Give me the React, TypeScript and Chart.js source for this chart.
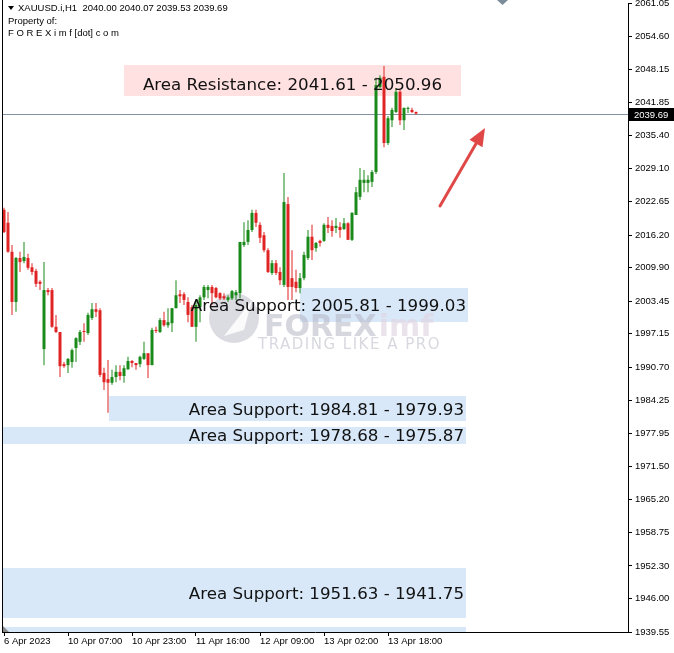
import { useEffect, useRef } from 'react';
import { Chart, registerables } from 'chart.js';
Chart.register(...registerables);

// ---------- data (H1 candles, XAUUSD) ----------
const opens = [
  2021.1, 2018.6, 2013.0, 2003.3, 2011.8, 2011.2, 2011.8, 2010.0, 2009.3, 2007.2,
  1994.2, 2005.6, 2005.6, 1998.5, 1997.5, 1991.3, 1991.1, 1991.7, 1994.4, 1995.6,
  1997.7, 1997.3, 2000.2, 2001.9, 2001.7, 1989.6, 1988.4, 1987.7, 1988.8, 1989.8,
  1989.0, 1990.3, 1991.9, 1991.5, 1991.3, 1992.3, 1993.4, 1991.1, 1997.9, 1997.5,
  1999.8, 1998.8, 1999.2, 2002.1, 2004.8, 2004.8, 2003.3, 2002.3, 1998.5, 2002.3,
  2004.2, 2005.6, 2006.2, 2006.0, 2005.0, 2004.4, 2003.7, 2004.0, 2004.6, 2005.0,
  2014.3, 2014.9, 2017.2, 2020.5, 2018.2, 2016.2, 2013.3, 2008.9, 2010.8, 2009.1,
  2006.6, 2022.2, 2007.9, 2007.2, 2006.0, 2007.9, 2011.8, 2015.9, 2013.7, 2015.1,
  2015.1, 2018.2, 2018.0, 2017.6, 2017.8, 2017.4, 2018.5, 2015.3, 2020.1, 2023.6,
  2026.3, 2026.3, 2026.5, 2028.4, 2044.8, 2046.8, 2034.0, 2038.4, 2040.0, 2043.9,
  2038.4, 2040.6, 2040.4, 2040.0,
];
const highs = [
  2021.5, 2020.7, 2014.3, 2012.0, 2013.0, 2014.9, 2012.6, 2010.8, 2009.7, 2007.5,
  2011.0, 2006.0, 2006.0, 2000.8, 1997.5, 1991.7, 1992.5, 1994.3, 1996.5, 1997.9,
  1999.2, 2001.2, 2003.1, 2003.1, 2002.1, 1990.6, 1992.1, 1990.2, 1991.1, 1991.1,
  1991.1, 1992.7, 1992.1, 1991.5, 1992.9, 1995.6, 1993.4, 1998.3, 1998.5, 2000.2,
  2001.4, 2002.1, 2002.1, 2007.5, 2005.6, 2005.2, 2004.2, 2002.7, 2003.7, 2004.6,
  2006.6, 2006.6, 2006.6, 2006.2, 2005.2, 2005.0, 2004.6, 2005.6, 2005.6, 2014.9,
  2018.7, 2019.1, 2021.1, 2021.1, 2018.7, 2016.8, 2013.7, 2011.4, 2011.4, 2010.0,
  2028.2, 2023.6, 2013.3, 2009.5, 2008.9, 2013.0, 2017.2, 2018.2, 2014.9, 2015.3,
  2018.5, 2019.7, 2019.1, 2019.5, 2018.7, 2019.5, 2018.7, 2020.7, 2025.5, 2029.2,
  2028.8, 2027.8, 2028.8, 2046.6, 2047.1, 2048.9, 2039.2, 2040.8, 2044.6, 2044.3,
  2040.8, 2041.0, 2040.8, 2040.07,
];
const lows = [
  2016.6, 2012.8, 2000.8, 2001.4, 2009.1, 2010.8, 2009.5, 2008.5, 2006.2, 2005.6,
  1991.1, 2004.6, 1998.3, 1997.3, 1988.8, 1990.6, 1989.6, 1990.6, 1991.7, 1995.0,
  1995.6, 1996.9, 1999.8, 2000.4, 1988.8, 1986.3, 1981.9, 1987.3, 1987.8, 1988.2,
  1987.7, 1990.2, 1990.7, 1990.2, 1990.7, 1992.1, 1988.6, 1991.1, 1997.3, 1997.3,
  1998.5, 1998.3, 1997.5, 2002.1, 2003.1, 2002.7, 1999.4, 1998.5, 1995.6, 1999.4,
  2003.7, 2004.0, 2002.7, 2004.0, 2003.7, 2003.7, 2003.3, 2003.7, 2003.7, 2004.0,
  2013.9, 2014.3, 2016.8, 2017.8, 2014.7, 2012.9, 2008.9, 2008.5, 2008.5, 2006.6,
  2006.2, 2003.7, 2003.7, 2005.2, 2005.0, 2007.5, 2011.4, 2011.4, 2013.0, 2014.0,
  2014.9, 2016.6, 2015.9, 2016.6, 2015.7, 2017.2, 2015.3, 2015.1, 2020.1, 2023.0,
  2024.5, 2024.5, 2025.5, 2028.0, 2044.6, 2033.2, 2033.6, 2037.1, 2039.8, 2037.5,
  2036.5, 2039.8, 2039.8, 2039.53,
];
const closes = [
  2016.8, 2013.0, 2003.3, 2011.8, 2011.0, 2012.0, 2009.9, 2009.1, 2006.8, 2006.8,
  2005.6, 2005.2, 1998.5, 1997.5, 1990.9, 1990.9, 1992.3, 1994.0, 1996.3, 1997.5,
  1997.5, 2000.8, 2001.9, 2001.4, 1989.2, 1987.8, 1987.7, 1988.8, 1989.8, 1989.0,
  1990.5, 1991.9, 1991.5, 1991.1, 1992.7, 1993.4, 1991.1, 1997.9, 1997.7, 1999.8,
  1998.8, 1999.4, 2002.1, 2004.6, 2004.4, 2003.7, 2000.8, 1998.5, 2002.7, 2004.2,
  2006.2, 2006.2, 2005.0, 2004.2, 2004.0, 2004.0, 2004.2, 2005.4, 2005.2, 2014.9,
  2014.9, 2017.2, 2020.5, 2018.6, 2015.7, 2013.3, 2009.1, 2010.8, 2008.9, 2007.5,
  2022.6, 2006.2, 2006.2, 2006.0, 2007.9, 2012.4, 2015.9, 2013.3, 2014.7, 2014.7,
  2018.2, 2017.6, 2017.0, 2018.0, 2017.2, 2018.5, 2015.3, 2020.5, 2024.5, 2026.9,
  2026.9, 2026.9, 2028.4, 2045.2, 2046.6, 2034.0, 2038.8, 2040.4, 2043.9, 2038.4,
  2040.8, 2040.8, 2040.0, 2039.69,
];

const timeLabels = ['6 Apr 2023', '10 Apr 07:00', '10 Apr 23:00', '11 Apr 16:00', '12 Apr 09:00', '13 Apr 02:00', '13 Apr 18:00'];
const timeLabelIdx = [0, 16, 32, 48, 64, 80, 96];

const yTickValues = [
  2061.05, 2054.6, 2048.15, 2041.85, 2035.4, 2029.1, 2022.65, 2016.2, 2009.9, 2003.45,
  1997.15, 1990.7, 1984.25, 1977.95, 1971.5, 1965.2, 1958.75, 1952.3, 1946.0, 1939.55,
];
const yMin = 1939.55;
const yMax = 2061.05;
const xMin = -0.5;
const xMax = 156;
const lastPrice = 2039.69;

const headerLine1 = 'XAUUSD.i,H1  2040.00 2040.07 2039.53 2039.69';
const headerLine2 = 'Property of:';
const headerLine3 = 'F O R E X i m f [dot] c o m';

// zones (x in bar index units, y in price)
const zoneFrom = [30, 74, 26.25, -0.5, -0.5, -0.5];
const zoneTo = [114.25, 116, 115.5, 115.5, 115.5, 115.5];
const zoneHigh = [2049.07, 2006.0, 1985.14, 1979.15, 1951.92, 1940.52];
const zoneLow = [2043.09, 1999.43, 1980.31, 1975.87, 1942.26, 1939.0];
const zoneKind = ['res', 'sup', 'sup', 'sup', 'sup', 'sup'];
const zoneLabels = [
  'Area Resistance: 2041.61 - 2050.96',
  'Area Support: 2005.81 - 1999.03',
  'Area Support: 1984.81 - 1979.93',
  'Area Support: 1978.68 - 1975.87',
  'Area Support: 1951.63 - 1941.75',
  '',
];
const zoneLabelPrice = [2045.21, 2002.52, 1982.43, 1977.41, 1946.89, 0];

const arrowFrom = [109, 2021.84];
const arrowTo = [120.25, 2036.9];

const UP = '#1a8a1a';
const DOWN = '#e02424';
const TICK_FONT = '"Liberation Sans", Arial, sans-serif';

const overlayPlugin = {
  id: 'overlay',
  beforeDatasetsDraw(chart: any) {
    const { ctx, chartArea: a } = chart;
    const x = chart.scales.x;
    const y = chart.scales.y;
    ctx.save();
    ctx.beginPath();
    ctx.rect(a.left, a.top, a.right - a.left, a.bottom - a.top);
    ctx.clip();
    zoneFrom.forEach((f, k) => {
      const x0 = x.getPixelForValue(f);
      const x1 = x.getPixelForValue(zoneTo[k]);
      const y0 = y.getPixelForValue(zoneHigh[k]);
      const y1 = y.getPixelForValue(zoneLow[k]);
      ctx.fillStyle = zoneKind[k] === 'res' ? '#ffe1e1' : '#d8e8f8';
      ctx.fillRect(x0, y0, x1 - x0, y1 - y0);
    });

    // watermark
    ctx.fillStyle = 'rgba(175,175,190,0.45)';
    ctx.beginPath();
    ctx.arc(234, 318, 25, 0, Math.PI * 2);
    ctx.fill();
    ctx.fillStyle = 'rgba(255,255,255,0.85)';
    ctx.beginPath();
    ctx.moveTo(224, 336);
    ctx.lineTo(252, 300);
    ctx.lineTo(244, 330);
    ctx.closePath();
    ctx.fill();
    ctx.textBaseline = 'alphabetic';
    ctx.textAlign = 'left';
    ctx.font = 'bold 30px "DejaVu Sans", sans-serif';
    ctx.fillStyle = 'rgba(180,180,196,0.55)';
    ctx.fillText('FOREX', 264, 336);
    const w = ctx.measureText('FOREX').width;
    ctx.fillStyle = 'rgba(225,212,224,0.65)';
    ctx.fillText('imf', 264 + w + 2, 336);
    ctx.font = '15px "DejaVu Sans", sans-serif';
    (ctx as any).letterSpacing = '1.5px';
    ctx.fillStyle = '#d8d8e0';
    ctx.textBaseline = 'middle';
    ctx.fillText('TRADING LIKE A PRO', 258, 345);
    (ctx as any).letterSpacing = '0px';

    // bid line
    const py = Math.round(y.getPixelForValue(lastPrice)) + 0.5;
    ctx.strokeStyle = '#8393a3';
    ctx.lineWidth = 1;
    ctx.beginPath();
    ctx.moveTo(a.left, py);
    ctx.lineTo(a.right, py);
    ctx.stroke();
    ctx.restore();
  },
  afterDatasetsDraw(chart: any) {
    const { ctx } = chart;
    const x = chart.scales.x;
    const y = chart.scales.y;
    ctx.save();
    ctx.font = '16.7px "DejaVu Sans", sans-serif';
    ctx.fillStyle = '#111';
    ctx.textBaseline = 'middle';
    zoneLabels.forEach((t, k) => {
      if (!t) return;
      const ty = y.getPixelForValue(zoneLabelPrice[k]) + 1;
      if (zoneKind[k] === 'res') {
        ctx.textAlign = 'center';
        const cx = (x.getPixelForValue(zoneFrom[k]) + x.getPixelForValue(zoneTo[k])) / 2;
        ctx.fillText(t, cx, ty);
      } else {
        ctx.textAlign = 'right';
        ctx.fillText(t, x.getPixelForValue(zoneTo[k]) - 2, ty);
      }
    });

    // arrow
    const ax0 = x.getPixelForValue(arrowFrom[0]);
    const ay0 = y.getPixelForValue(arrowFrom[1]);
    const ax1 = x.getPixelForValue(arrowTo[0]);
    const ay1 = y.getPixelForValue(arrowTo[1]);
    const ang = Math.atan2(ay1 - ay0, ax1 - ax0);
    const hl = 18;
    const hw = 7.5;
    const bx = ax1 - hl * Math.cos(ang);
    const by = ay1 - hl * Math.sin(ang);
    ctx.strokeStyle = '#e04848';
    ctx.fillStyle = '#e04848';
    ctx.lineWidth = 3;
    ctx.lineCap = 'round';
    ctx.beginPath();
    ctx.moveTo(ax0, ay0);
    ctx.lineTo(bx + 2 * Math.cos(ang), by + 2 * Math.sin(ang));
    ctx.stroke();
    ctx.beginPath();
    ctx.moveTo(ax1, ay1);
    ctx.lineTo(bx + hw * Math.sin(ang), by - hw * Math.cos(ang));
    ctx.lineTo(bx - hw * Math.sin(ang), by + hw * Math.cos(ang));
    ctx.closePath();
    ctx.fill();
    ctx.restore();
  },
  afterDraw(chart: any) {
    const { ctx, chartArea: a } = chart;
    const y = chart.scales.y;
    ctx.save();
    // frame left line
    ctx.fillStyle = '#000';
    ctx.fillRect(a.left, 0, 1, a.bottom + 1);

    // header
    ctx.font = '9.5px ' + TICK_FONT;
    ctx.fillStyle = '#000';
    ctx.textAlign = 'left';
    ctx.textBaseline = 'middle';
    ctx.beginPath();
    ctx.moveTo(8, 6);
    ctx.lineTo(14, 6);
    ctx.lineTo(11, 10);
    ctx.closePath();
    ctx.fill();
    ctx.fillText(headerLine1, 18, 8.5);
    ctx.fillText(headerLine2, 8, 21);
    ctx.fillText(headerLine3, 8, 33);

    // top shift marker
    ctx.fillStyle = '#7d8c9b';
    ctx.beginPath();
    ctx.moveTo(497, 0);
    ctx.lineTo(508, 0);
    ctx.lineTo(502.5, 5);
    ctx.closePath();
    ctx.fill();

    // bottom-left marker
    ctx.fillStyle = '#8a8a8a';
    ctx.beginPath();
    ctx.moveTo(a.left + 1, a.bottom - 6);
    ctx.lineTo(a.left + 1, a.bottom);
    ctx.lineTo(a.left + 7, a.bottom);
    ctx.closePath();
    ctx.fill();

    // price label on axis
    const py = Math.round(y.getPixelForValue(lastPrice)) + 0.5;
    ctx.fillStyle = '#000';
    ctx.fillRect(a.right + 1, py - 6.5, 45, 13);
    ctx.fillStyle = '#fff';
    ctx.font = '9.5px ' + TICK_FONT;
    ctx.textAlign = 'left';
    ctx.textBaseline = 'middle';
    ctx.fillText(lastPrice.toFixed(2), a.right + 6, py + 0.5);
    ctx.restore();
  },
};

export default function App() {
  const ref = useRef<HTMLCanvasElement | null>(null);
  useEffect(() => {
    document.body.style.margin = '0';
    const canvas = ref.current;
    if (!canvas) return;
    const colors = opens.map((o, i) => (closes[i] >= o ? UP : DOWN));
    const chart = new Chart(canvas, {
      type: 'bar',
      data: {
        datasets: [
          {
            label: 'body',
            data: opens.map((o, i) => ({ x: i, y: [o, closes[i]] })) as any,
            backgroundColor: colors,
            barThickness: 3,
            grouped: false,
            minBarLength: 1,
            inflateAmount: 0,
            borderWidth: 0,
            order: 0,
          } as any,
          {
            label: 'wick',
            data: highs.map((h, i) => ({ x: i, y: [lows[i], h] })) as any,
            backgroundColor: colors,
            barThickness: 1,
            grouped: false,
            minBarLength: 1,
            inflateAmount: 0,
            borderWidth: 0,
            order: 1,
          } as any,
        ],
      },
      options: {
        responsive: false,
        animation: false,
        events: [],
        layout: { padding: { left: 2, top: 3, right: 0, bottom: 0 }, autoPadding: false } as any,
        plugins: { legend: { display: false }, tooltip: { enabled: false } },
        scales: {
          x: {
            type: 'linear',
            min: xMin,
            max: xMax,
            offset: false,
            afterBuildTicks: (s: any) => {
              s.ticks = timeLabelIdx.map((v) => ({ value: v }));
            },
            afterFit: (s: any) => {
              s.height = 21;
              s.paddingLeft = 0;
              s.paddingRight = 0;
            },
            ticks: {
              autoSkip: false,
              maxRotation: 0,
              minRotation: 0,
              align: 'start',
              padding: 0,
              color: '#000',
              font: { family: TICK_FONT, size: 9.5 },
              callback: (v: any) => {
                const k = timeLabelIdx.indexOf(Number(v));
                return k >= 0 ? timeLabels[k] : '';
              },
            },
            grid: { drawOnChartArea: false, tickLength: 4, color: '#000', offset: false },
            border: { display: true, color: '#000' },
          } as any,
          y: {
            type: 'linear',
            position: 'right',
            min: yMin,
            max: yMax,
            afterBuildTicks: (s: any) => {
              s.ticks = yTickValues.map((v) => ({ value: v }));
            },
            afterFit: (s: any) => {
              s.width = 46;
              s.paddingTop = 0;
              s.paddingBottom = 0;
            },
            ticks: {
              autoSkip: false,
              padding: 3,
              color: '#000',
              font: { family: TICK_FONT, size: 9.5 },
              callback: (v: any) => Number(v).toFixed(2),
            },
            grid: { drawOnChartArea: false, tickLength: 4, color: '#000' },
            border: { display: true, color: '#000' },
          } as any,
        },
      },
      plugins: [overlayPlugin],
    });
    return () => chart.destroy();
  }, []);
  return <canvas ref={ref} width={674} height={653} style={{ display: 'block' }} />;
}
